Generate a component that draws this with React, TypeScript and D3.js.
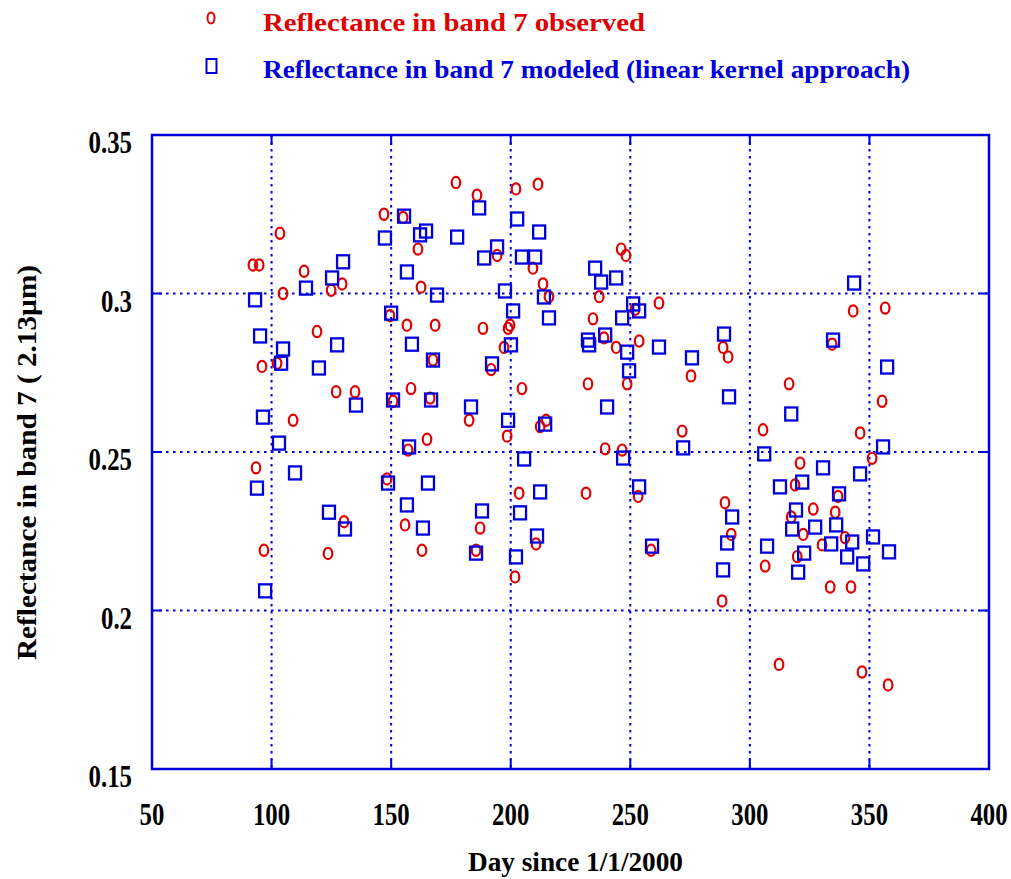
import React from "react";
import * as d3 from "d3";

const observedDay = [92.2, 94.8, 103.5, 104.8, 96.0, 102.3, 93.5, 96.8, 109.0, 113.6, 119.0, 124.9, 129.5, 127.0, 134.9, 130.3, 123.6, 147.0, 149.5, 150.8, 148.3, 155.0, 156.6, 158.3, 157.1, 155.8, 161.2, 162.5, 167.5, 168.4, 166.3, 165.0, 162.9,
  177.1, 185.9, 188.4, 191.8, 194.3, 182.6, 187.2, 185.5, 197.2, 199.7, 198.9, 198.5, 202.2, 203.5, 201.8, 204.7, 211.4, 209.3, 213.5, 216.0, 214.8, 212.3, 210.6,
  232.3, 231.5, 234.4, 237.0, 239.0, 239.5, 244.1, 246.2, 248.2, 248.7, 246.6, 253.7, 253.3, 262.0, 252.0, 258.7, 271.7, 275.4,
  288.8, 290.9, 289.6, 292.2, 288.4, 305.5, 306.4, 312.2, 316.4, 318.9, 321.0, 317.3, 319.8, 322.3, 326.5, 330.2, 335.7, 336.9, 339.8, 333.6, 342.3, 334.4, 343.2, 346.1, 351.1, 346.9, 356.6, 357.8, 355.3];
const observedVal = [0.309, 0.309, 0.319, 0.300, 0.277, 0.278, 0.245, 0.219, 0.260, 0.307, 0.288, 0.301, 0.303, 0.269, 0.269, 0.228, 0.218, 0.325, 0.293, 0.266, 0.2415, 0.324, 0.290, 0.270, 0.2506, 0.227, 0.314, 0.302, 0.279, 0.290, 0.267, 0.254, 0.219,
  0.335, 0.331, 0.289, 0.276, 0.312, 0.260, 0.226, 0.219, 0.283, 0.290, 0.289, 0.255, 0.333, 0.237, 0.2106, 0.270, 0.3345, 0.308, 0.303, 0.299, 0.260, 0.258, 0.221,
  0.2715, 0.237, 0.292, 0.299, 0.286, 0.251, 0.283, 0.314, 0.312, 0.2715, 0.2506, 0.285, 0.236, 0.297, 0.295, 0.219, 0.2566, 0.274,
  0.283, 0.280, 0.234, 0.224, 0.203, 0.257, 0.214, 0.183, 0.2715, 0.2396, 0.2465, 0.2295, 0.217, 0.224, 0.232, 0.2207, 0.231, 0.236, 0.223, 0.2074, 0.2074, 0.284, 0.2945, 0.256, 0.248, 0.1806, 0.2954, 0.1765, 0.266];

const modeledDay = [93.1, 95.2, 96.4, 93.9, 97.3, 104.8, 104.0, 103.1, 109.8, 114.4, 125.3, 129.9, 119.8, 127.4, 135.3, 124.0, 130.7, 147.4, 150.0, 150.8, 148.7, 155.4, 156.6, 158.7, 157.5, 156.6, 162.1, 164.6, 169.2, 167.5, 166.7, 165.4, 163.3,
  177.6, 186.8, 183.4, 188.9, 194.3, 192.2, 188.0, 185.5, 197.6, 200.1, 198.9, 202.7, 201.0, 204.7, 205.6, 203.9, 202.2, 211.9, 210.2, 213.9, 214.4, 212.3, 211.0, 216.0,
  232.3, 232.8, 235.3, 237.8, 244.1, 239.5, 240.3, 246.6, 248.7, 249.5, 247.0, 251.2, 253.7, 253.7, 262.0, 259.1, 275.8, 272.1,
  289.2, 291.3, 292.6, 290.5, 288.8, 306.0, 307.2, 312.6, 317.3, 319.3, 317.7, 321.9, 320.2, 322.7, 327.3, 330.6, 334.8, 336.1, 334.0, 337.3, 340.7, 342.8, 343.6, 346.1, 347.4, 351.5, 355.7, 357.4, 358.2];
const modeledVal = [0.298, 0.2866, 0.261, 0.2386, 0.2062, 0.2825, 0.278, 0.2528, 0.2434, 0.3017, 0.3049, 0.310, 0.2765, 0.2838, 0.2648, 0.231, 0.2257, 0.3175, 0.2938, 0.2664, 0.2402, 0.3244, 0.3068, 0.284, 0.2516, 0.2333, 0.3185, 0.3197, 0.2995, 0.279, 0.2664, 0.2402, 0.226,
  0.3178, 0.327, 0.2642, 0.3112, 0.3147, 0.2778, 0.2314, 0.2181, 0.3008, 0.2838, 0.260, 0.3235, 0.2945, 0.3115, 0.2478, 0.2308, 0.2169, 0.3194, 0.3115, 0.2989, 0.2588, 0.2374, 0.2235, 0.2923,
  0.2853, 0.2838, 0.308, 0.3036, 0.3049, 0.2869, 0.2642, 0.2923, 0.2815, 0.2756, 0.2481, 0.2967, 0.2945, 0.239, 0.2831, 0.2203, 0.2797, 0.2513,
  0.2872, 0.2674, 0.2295, 0.2213, 0.2128, 0.2494, 0.2203, 0.239, 0.262, 0.2317, 0.2257, 0.2405, 0.2121, 0.2181, 0.2263, 0.245, 0.2853, 0.227, 0.221, 0.2368, 0.2169, 0.2216, 0.3033, 0.2431, 0.2147, 0.2232, 0.2516, 0.2768, 0.2185];

const xTicks = [50, 100, 150, 200, 250, 300, 350, 400];
const xTickLabels = ["50", "100", "150", "200", "250", "300", "350", "400"];
const yTicks = [0.15, 0.2, 0.25, 0.3, 0.35];
const yTickLabels = ["0.15", "0.2", "0.25", "0.3", "0.35"];
const legendLabels = ["Reflectance in band 7 observed", "Reflectance in band 7 modeled (linear kernel approach)"];
const xTitle = "Day since 1/1/2000";
const yTitle = "Reflectance in band 7 ( 2.13\u00b5m)";

const RED = "#e00000";
const BLUE = "#0000dd";
const FONT = "'Liberation Serif', 'Times New Roman', serif";
const SX = 0.8;

function T({ x, y, children, size, fill = "#000", anchor = "start", rotate = 0, len }: any) {
  return (
    <g transform={`translate(${x},${y}) rotate(${rotate})${len ? "" : ` scale(${SX},1)`}`}>
      <text fontFamily={FONT} fontWeight="bold" fontSize={size} fill={fill} textAnchor={anchor}
        textLength={len} lengthAdjust={len ? "spacingAndGlyphs" : undefined}>{children}</text>
    </g>
  );
}

export default function App() {
  const x = d3.scaleLinear().domain([50, 400]).range([152, 989]);
  const y = d3.scaleLinear().domain([0.15, 0.35]).range([769, 135]);
  const [x0, x1] = x.range();
  const [yb, yt] = y.range();
  const tickLen = 10;

  return (
    <svg width={1011} height={879} style={{ position: "absolute", left: 0, top: 0, background: "#fff" }}>
      <rect x={0} y={0} width={1011} height={879} fill="#fff" />
      {xTicks.slice(1, -1).map((t) => (
        <line key={"gx" + t} x1={x(t)} x2={x(t)} y1={yt} y2={yb} stroke={BLUE} strokeWidth={2} strokeDasharray="2.5,4.5" />
      ))}
      {yTicks.slice(1, -1).map((t) => (
        <line key={"gy" + t} x1={x0} x2={x1} y1={y(t)} y2={y(t)} stroke={BLUE} strokeWidth={2} strokeDasharray="2.5,4.5" />
      ))}
      {xTicks.map((t) => (
        <g key={"tx" + t}>
          <line x1={x(t)} x2={x(t)} y1={yb} y2={yb - tickLen} stroke={BLUE} strokeWidth={2} />
          <line x1={x(t)} x2={x(t)} y1={yt} y2={yt + tickLen} stroke={BLUE} strokeWidth={2} />
        </g>
      ))}
      {yTicks.map((t) => (
        <g key={"ty" + t}>
          <line x1={x0} x2={x0 + tickLen} y1={y(t)} y2={y(t)} stroke={BLUE} strokeWidth={2} />
          <line x1={x1} x2={x1 - tickLen} y1={y(t)} y2={y(t)} stroke={BLUE} strokeWidth={2} />
        </g>
      ))}
      <rect x={x0} y={yt} width={x1 - x0} height={yb - yt} fill="none" stroke={BLUE} strokeWidth={2.5} />

      {observedDay.map((d, i) => (
        <ellipse key={"o" + i} cx={x(d)} cy={y(observedVal[i])} rx={4.3} ry={5.6} fill="none" stroke={RED} strokeWidth={2.2} />
      ))}
      {modeledDay.map((d, i) => (
        <rect key={"m" + i} x={x(d) - 6} y={y(modeledVal[i]) - 6.5} width={12} height={13} fill="none" stroke={BLUE} strokeWidth={2.3} />
      ))}

      {xTicks.map((t, i) => (
        <T key={"xl" + t} x={x(t)} y={825} size={31} anchor="middle">{xTickLabels[i]}</T>
      ))}
      {yTicks.map((t, i) => (
        <T key={"yl" + t} x={132} y={y(t) + 18} size={31} anchor="end">{yTickLabels[i]}</T>
      ))}

      <T x={468} y={871} size={28} len={215}>{xTitle}</T>
      <T x={36} y={660} size={28} rotate={-90} len={395}>{yTitle}</T>

      <ellipse cx={211} cy={18} rx={3.5} ry={5.5} fill="none" stroke={RED} strokeWidth={2} />
      <rect x={206.5} y={59} width={10} height={14} fill="none" stroke={BLUE} strokeWidth={2} />
      <T x={263} y={31} size={25} fill={RED} len={382}>{legendLabels[0]}</T>
      <T x={263} y={78} size={25} fill={BLUE} len={647}>{legendLabels[1]}</T>
    </svg>
  );
}
